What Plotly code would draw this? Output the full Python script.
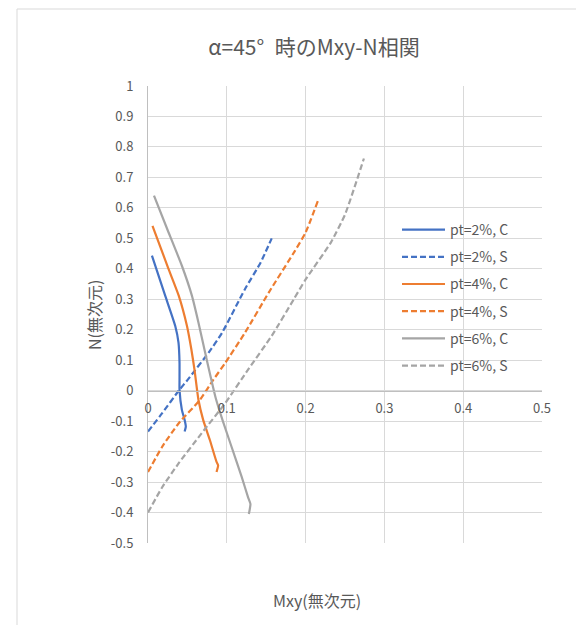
import plotly.graph_objects as go

# ---- data ----
c2_x = [0.005, 0.0218, 0.0345, 0.0387, 0.040, 0.040, 0.040, 0.043, 0.0465, 0.048, 0.0465]
c2_y = [0.443, 0.312, 0.213, 0.158, 0.092, 0.036, 0.003, -0.063, -0.096, -0.118, -0.134]

s2_x = [0.0, 0.018, 0.039, 0.051, 0.077, 0.094, 0.123, 0.143, 0.157]
s2_y = [-0.134, -0.074, 0.0, 0.038, 0.125, 0.19, 0.333, 0.421, 0.5]

c4_x = [0.0057, 0.026, 0.039, 0.0494, 0.055, 0.059, 0.064, 0.070, 0.0785, 0.087, 0.089, 0.087]
c4_y = [0.541, 0.40, 0.312, 0.213, 0.136, 0.069, -0.03, -0.096, -0.162, -0.234, -0.245, -0.267]

s4_x = [0.0, 0.018, 0.039, 0.066, 0.083, 0.098, 0.123, 0.153, 0.1865, 0.200, 0.2156]
s4_y = [-0.267, -0.184, -0.107, -0.03, 0.036, 0.091, 0.19, 0.321, 0.459, 0.519, 0.623]

c6_x = [0.0076, 0.024, 0.043, 0.0557, 0.064, 0.0725, 0.080, 0.086, 0.095, 0.106, 0.119, 0.127, 0.130, 0.128]
c6_y = [0.640, 0.533, 0.41, 0.312, 0.224, 0.125, 0.04, -0.025, -0.1, -0.184, -0.284, -0.35, -0.372, -0.405]

s6_x = [0.0, 0.018, 0.039, 0.068, 0.098, 0.127, 0.157, 0.185, 0.200, 0.232, 0.250, 0.274]
s6_y = [-0.4, -0.317, -0.238, -0.14, -0.041, 0.069, 0.18, 0.3, 0.365, 0.486, 0.578, 0.762]

series_names = ["pt=2%, C", "pt=2%, S", "pt=4%, C", "pt=4%, S", "pt=6%, C", "pt=6%, S"]

y_ticks = [1, 0.9, 0.8, 0.7, 0.6, 0.5, 0.4, 0.3, 0.2, 0.1, 0, -0.1, -0.2, -0.3, -0.4, -0.5]
y_tick_text = ["1", "0.9", "0.8", "0.7", "0.6", "0.5", "0.4", "0.3", "0.2", "0.1", "0",
               "-0.1", "-0.2", "-0.3", "-0.4", "-0.5"]
x_ticks = [0, 0.1, 0.2, 0.3, 0.4, 0.5]
x_tick_text = ["0", "0.1", "0.2", "0.3", "0.4", "0.5"]

title_text = "α=45°\u2002時のMxy-N相関"
x_title = "Mxy(無次元)"
y_title = "N(無次元)"

# ---- styling ----
BLUE = "#4472C4"
ORANGE = "#ED7D31"
GRAY = "#A5A5A5"
TXT = "#595959"
FONT = "Noto Sans CJK JP"

# page has an 8px body margin: work in absolute page pixels and shift
OFF = 8
W, H = 584 - OFF, 625 - OFF
PL, PR, PT, PB = 148, 542, 86, 543  # absolute plot-area edges
ML, MT = PL - OFF, PT - OFF
MR, MB = W - (PR - OFF), H - (PB - OFF)
PW, PH = PR - PL, PB - PT


def px(xabs):
    return (xabs - PL) / PW


def py(yabs):
    return (PB - yabs) / PH


data = [(c2_x, c2_y, BLUE, "solid"), (s2_x, s2_y, BLUE, "6px,3px"),
        (c4_x, c4_y, ORANGE, "solid"), (s4_x, s4_y, ORANGE, "6px,3px"),
        (c6_x, c6_y, GRAY, "solid"), (s6_x, s6_y, GRAY, "6px,3px")]

fig = go.Figure()
for i, ((xs, ys, col, dash), name) in enumerate(zip(data, series_names)):
    fig.add_trace(go.Scatter(x=xs, y=ys, mode="lines", name=name,
                             legendgroup=f"g{i}",
                             line=dict(color=col, width=2.2, dash=dash,
                                       shape="spline", smoothing=0.5),
                             hoverinfo="skip"))

fig.update_layout(
    width=W, height=H,
    margin=dict(l=ML, r=MR, t=MT, b=MB),
    paper_bgcolor="white", plot_bgcolor="white",
    font=dict(family=FONT, color=TXT, size=13),
    title=dict(text=title_text, x=(314 - OFF) / W, xanchor="center",
               y=1 - (48 - OFF) / H, yanchor="middle",
               font=dict(size=21, color=TXT, family=FONT)),
    showlegend=True,
    legend=dict(x=px(397), xanchor="left", y=py(214), yanchor="top",
                bgcolor="rgba(0,0,0,0)", font=dict(size=14, color=TXT, family=FONT),
                itemwidth=43, tracegroupgap=6, traceorder="grouped"),
    hovermode=False,
)

fig.update_xaxes(range=[0, 0.5], tickvals=x_ticks, ticktext=x_tick_text,
                 showgrid=True, gridcolor="#D9D9D9", gridwidth=1,
                 zeroline=False, showline=True, linecolor="#BFBFBF", linewidth=1,
                 anchor="free", position=1 / 3, ticks="", ticklabelstandoff=6,
                 tickfont=dict(size=13, color=TXT), mirror=False)
fig.update_yaxes(range=[-0.5, 1], tickvals=y_ticks, ticktext=y_tick_text,
                 showgrid=True, gridcolor="#D9D9D9", gridwidth=1,
                 zeroline=False, showline=True, linecolor="#BFBFBF", linewidth=1,
                 ticks="", ticklabelstandoff=11, tickfont=dict(size=13, color=TXT))

# axis titles
fig.add_annotation(text=x_title, xref="paper", yref="paper",
                   x=px(317), y=py(600), xanchor="center", yanchor="middle",
                   showarrow=False, font=dict(size=16, color=TXT, family=FONT))
fig.add_annotation(text=y_title, xref="paper", yref="paper",
                   x=px(94), y=py(315), xanchor="center", yanchor="middle",
                   textangle=-90, showarrow=False, font=dict(size=16, color=TXT, family=FONT))

# chart-area border
fig.add_shape(type="rect", xref="paper", yref="paper",
              x0=px(17), x1=px(700), y0=py(700), y1=py(9),
              line=dict(color="#D9D9D9", width=1), fillcolor="rgba(0,0,0,0)", layer="below")

fig.write_html("out.html", config={"displayModeBar": False})
